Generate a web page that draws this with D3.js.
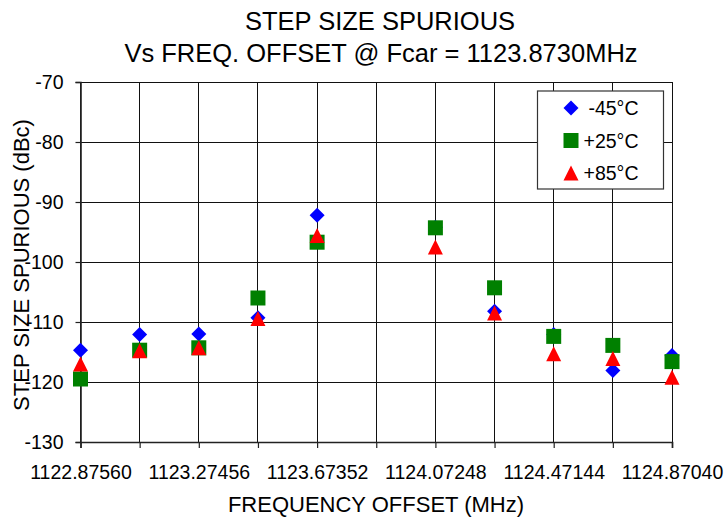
<!DOCTYPE html>
<html>
<head>
<meta charset="utf-8">
<script src="https://cdn.jsdelivr.net/npm/d3@7"></script>
<style>
  body { margin: 0; background: #fff; }
  svg { display: block; font-family: "Liberation Sans", Arial, Helvetica, sans-serif; }
</style>
</head>
<body>
<div id="chart"></div>
<script>
// frequency offsets (MHz), one grid column each
const freqs = ["1122.87560", "1123.07508", "1123.27456", "1123.47404", "1123.67352", "1123.87300",
               "1124.07248", "1124.27196", "1124.47144", "1124.67092", "1124.87040"];
// spurious level (dBc), null = no point (carrier)
const minus45 = [-114.7, -112.1, -112.0, -109.3, -92.2, null, -94.2, -108.2, -112.1, -118.1, -115.6];
const plus25  = [-119.5, -114.7, -114.3, -106.0, -96.7, null, -94.3, -104.3, -112.4, -113.9, -116.6];
const plus85  = [-117.0, -114.8, -114.3, -109.4, -95.6, null, -97.5, -108.5, -115.3, -116.1, -119.2];
const yTicks = [-130, -120, -110, -100, -90, -80, -70];
const seriesNames = ["-45°C", "+25°C", "+85°C"];

const width = 728, height = 519;
const margin = {top: 82, right: 56, bottom: 77, left: 80.5};

const series = [
  {name: seriesNames[0], values: minus45, color: "#0000ff", shape: "diamond"},
  {name: seriesNames[1], values: plus25,  color: "#008000", shape: "square"},
  {name: seriesNames[2], values: plus85,  color: "#ff0000", shape: "triangle"}
];

// markers centred on their bounding box, like the spreadsheet ones
const shapes = {
  diamond:  r => `M0,${-r}L${r},0L0,${r}L${-r},0Z`,
  square:   r => `M${-r},${-r}H${r}V${r}H${-r}Z`,
  triangle: r => `M0,${-r}L${r},${r}L${-r},${r}Z`
};

const svg = d3.select("#chart").append("svg")
    .attr("width", width)
    .attr("height", height);

const x = d3.scalePoint().domain(freqs).range([margin.left, width - margin.right]);
const y = d3.scaleLinear().domain([-130, -70]).range([height - margin.bottom, margin.top]);

// grid
const grid = svg.append("g").attr("stroke", "#111").attr("stroke-width", 1)
    .attr("shape-rendering", "crispEdges");
grid.selectAll(".h").data(yTicks).join("line")
    .attr("x1", margin.left).attr("x2", width - margin.right)
    .attr("y1", d => y(d)).attr("y2", d => y(d));
grid.selectAll(".v").data(freqs).join("line")
    .attr("x1", d => x(d)).attr("x2", d => x(d))
    .attr("y1", margin.top).attr("y2", height - margin.bottom);

// axes (plain hyphen for negatives, as in the original)
const yAxis = svg.append("g")
    .attr("transform", `translate(${margin.left},0)`)
    .call(d3.axisLeft(y).tickValues(yTicks).tickSize(5).tickPadding(12)
      .tickFormat(d => String(d)));
const xAxis = svg.append("g")
    .attr("transform", `translate(0,${height - margin.bottom})`)
    .call(d3.axisBottom(x).tickSize(6).tickPadding(17)
      .tickFormat((d, i) => i % 2 === 0 ? d : ""));
[yAxis, xAxis].forEach(a => {
  a.select(".domain").attr("stroke", "#222").attr("stroke-width", 1.6);
  a.selectAll(".tick line").attr("stroke", "#222").attr("stroke-width", 1.2);
  a.selectAll("text").attr("fill", "#000").style("font-size", "19.5px")
    .style("font-family", "'Liberation Sans', Arial, sans-serif");
});

// markers
series.forEach(s => {
  svg.append("g").selectAll("path")
    .data(s.values.map((v, i) => ({f: freqs[i], v})).filter(d => d.v !== null))
    .join("path")
      .attr("transform", d => `translate(${x(d.f)},${y(d.v)})`)
      .attr("d", shapes[s.shape](7.5))
      .attr("fill", s.color);
});

// titles
const titles = svg.append("g").attr("text-anchor", "middle").attr("fill", "#000");
titles.append("text").attr("x", 380).attr("y", 29.5)
    .style("font-size", "25.5px").text("STEP SIZE SPURIOUS");
titles.append("text").attr("x", 381).attr("y", 61.5)
    .style("font-size", "25.5px").text("Vs FREQ. OFFSET @ Fcar = 1123.8730MHz");
titles.append("text").attr("x", 376).attr("y", 512)
    .style("font-size", "22px").text("FREQUENCY OFFSET (MHz)");
titles.append("text")
    .attr("transform", `translate(28.5,${(margin.top + height - margin.bottom) / 2 + 3}) rotate(-90)`)
    .style("font-size", "22px").text("STEP SIZE SPURIOUS (dBc)");

// legend
const legend = svg.append("g").attr("transform", "translate(537.5,91)");
legend.append("rect").attr("width", 126).attr("height", 98)
    .attr("fill", "#fff").attr("stroke", "#333").attr("stroke-width", 1.2);
series.forEach((s, i) => {
  const row = legend.append("g").attr("transform", `translate(0,${17 + i * 32.5})`);
  row.append("path").attr("transform", "translate(33.5,0)")
    .attr("d", shapes[s.shape](7.5)).attr("fill", s.color);
  row.append("text").attr("x", 101).attr("y", 7).attr("text-anchor", "end")
    .style("font-size", "19.5px").text(s.name);
});
</script>
</body>
</html>
